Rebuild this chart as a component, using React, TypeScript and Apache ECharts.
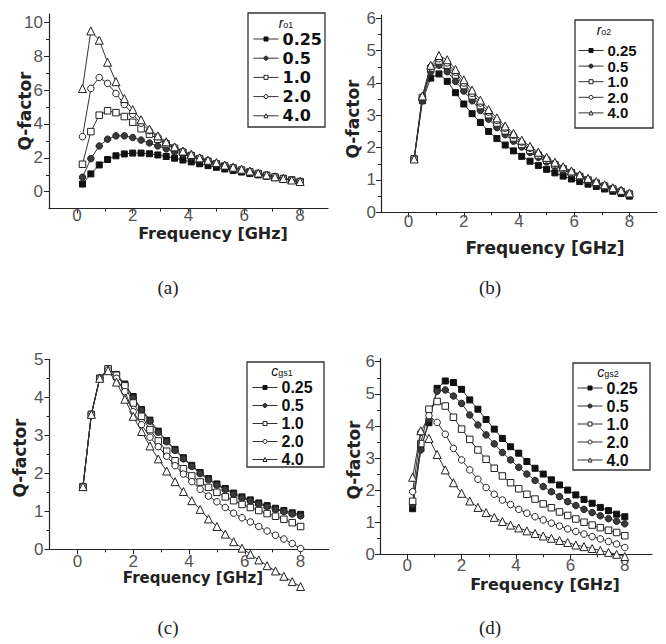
import React, { useEffect, useRef } from 'react';
import * as echarts from 'echarts';

const freq = [0.2, 0.5, 0.8, 1.1, 1.4, 1.7, 2.0, 2.3, 2.6, 2.9, 3.2, 3.5, 3.8, 4.1, 4.4, 4.7, 5.0, 5.3, 5.6, 5.9, 6.2, 6.5, 6.8, 7.1, 7.4, 7.7, 8.0];
const seriesNames = ['0.25', '0.5', '1.0', '2.0', '4.0'];

// (a) r_o1
const a025 = [0.45, 1.05, 1.58, 1.9, 2.12, 2.23, 2.28, 2.28, 2.24, 2.17, 2.08, 1.98, 1.87, 1.76, 1.65, 1.54, 1.44, 1.34, 1.25, 1.16, 1.07, 0.99, 0.91, 0.83, 0.75, 0.67, 0.58];
const a05 = [0.85, 1.95, 2.7, 3.1, 3.3, 3.3, 3.2, 3.05, 2.88, 2.7, 2.53, 2.36, 2.2, 2.04, 1.89, 1.75, 1.62, 1.5, 1.39, 1.28, 1.17, 1.07, 0.97, 0.87, 0.78, 0.69, 0.6];
const a10 = [1.62, 3.55, 4.52, 4.78, 4.67, 4.44, 4.1, 3.72, 3.4, 3.1, 2.82, 2.56, 2.33, 2.13, 1.95, 1.79, 1.65, 1.52, 1.4, 1.28, 1.17, 1.07, 0.97, 0.87, 0.78, 0.69, 0.6];
const a20 = [3.25, 6.1, 6.75, 6.4, 5.8, 5.15, 4.58, 4.05, 3.6, 3.25, 2.9, 2.62, 2.38, 2.17, 1.99, 1.83, 1.68, 1.54, 1.41, 1.3, 1.19, 1.08, 0.98, 0.88, 0.78, 0.69, 0.6];
const a40 = [6.1, 9.5, 8.95, 7.65, 6.5, 5.5, 4.85, 4.25, 3.7, 3.3, 2.95, 2.65, 2.4, 2.2, 2.0, 1.86, 1.72, 1.57, 1.45, 1.33, 1.22, 1.1, 0.99, 0.88, 0.78, 0.69, 0.6];

// (b) r_o2
const b025 = [1.65, 3.45, 4.15, 4.28, 4.05, 3.7, 3.35, 3.05, 2.78, 2.5, 2.28, 2.08, 1.9, 1.73, 1.58, 1.45, 1.33, 1.22, 1.12, 1.03, 0.95, 0.87, 0.8, 0.72, 0.65, 0.58, 0.5];
const b05 = [1.65, 3.45, 4.35, 4.55, 4.35, 4.05, 3.75, 3.45, 3.15, 2.88, 2.62, 2.4, 2.2, 2.02, 1.85, 1.7, 1.56, 1.43, 1.31, 1.2, 1.1, 1.0, 0.91, 0.82, 0.74, 0.66, 0.55];
const b10 = [1.65, 3.55, 4.45, 4.68, 4.55, 4.25, 3.92, 3.6, 3.3, 3.02, 2.76, 2.52, 2.3, 2.1, 1.92, 1.76, 1.61, 1.47, 1.34, 1.22, 1.11, 1.0, 0.9, 0.81, 0.72, 0.64, 0.56];
const b20 = [1.65, 3.55, 4.5, 4.75, 4.62, 4.33, 4.0, 3.68, 3.38, 3.1, 2.84, 2.6, 2.38, 2.17, 1.98, 1.81, 1.65, 1.5, 1.37, 1.25, 1.13, 1.02, 0.92, 0.83, 0.74, 0.66, 0.58];
const b40 = [1.65, 3.6, 4.55, 4.85, 4.72, 4.42, 4.1, 3.78, 3.47, 3.18, 2.92, 2.67, 2.44, 2.23, 2.04, 1.86, 1.7, 1.55, 1.41, 1.28, 1.16, 1.05, 0.95, 0.85, 0.76, 0.68, 0.6];

// (c) c_gs1
const c025 = [1.65, 3.55, 4.5, 4.75, 4.6, 4.35, 4.02, 3.68, 3.4, 3.11, 2.86, 2.63, 2.41, 2.21, 2.02, 1.86, 1.72, 1.6, 1.48, 1.38, 1.3, 1.22, 1.15, 1.08, 1.02, 0.96, 0.92];
const c05 = [1.65, 3.55, 4.5, 4.75, 4.6, 4.33, 3.98, 3.66, 3.37, 3.08, 2.83, 2.6, 2.38, 2.18, 1.99, 1.83, 1.69, 1.57, 1.45, 1.35, 1.27, 1.19, 1.12, 1.05, 0.99, 0.93, 0.88];
const c10 = [1.65, 3.55, 4.5, 4.75, 4.58, 4.3, 3.85, 3.5, 3.15, 2.85, 2.58, 2.33, 2.12, 1.93, 1.77, 1.63, 1.5, 1.38, 1.28, 1.18, 1.1, 1.02, 0.94, 0.87, 0.79, 0.7, 0.6];
const c20 = [1.65, 3.55, 4.5, 4.72, 4.5, 4.15, 3.62, 3.28, 2.95, 2.7, 2.45, 2.2, 1.98, 1.78, 1.58, 1.4, 1.25, 1.1, 0.95, 0.83, 0.72, 0.6, 0.48, 0.37, 0.27, 0.15, 0.02];
const c40 = [1.65, 3.55, 4.5, 4.7, 4.4, 3.95, 3.5, 3.1, 2.72, 2.38, 2.06, 1.78, 1.52, 1.28, 1.05, 0.8, 0.6, 0.4, 0.2, 0.03, -0.13, -0.28, -0.43, -0.57, -0.71, -0.85, -0.98];

// (d) c_gs2
const d025 = [1.42, 3.3, 4.1, 5.17, 5.4, 5.35, 5.14, 4.81, 4.52, 4.2, 3.9, 3.61, 3.35, 3.15, 2.89, 2.68, 2.5, 2.32, 2.16, 2.0, 1.85, 1.71, 1.59, 1.46, 1.36, 1.25, 1.17];
const d05 = [1.55, 3.25, 4.2, 5.08, 5.12, 4.93, 4.7, 4.34, 4.03, 3.72, 3.44, 3.17, 2.94, 2.71, 2.5, 2.3, 2.11, 1.95, 1.8, 1.64, 1.52, 1.4, 1.3, 1.2, 1.11, 1.03, 0.95];
const d10 = [1.65, 3.45, 4.52, 4.76, 4.62, 4.27, 3.9, 3.58, 3.25, 2.96, 2.68, 2.44, 2.23, 2.04, 1.87, 1.72, 1.57, 1.45, 1.32, 1.21, 1.1, 1.0, 0.91, 0.83, 0.75, 0.68, 0.58];
const d20 = [1.95, 3.8, 4.32, 4.11, 3.74, 3.3, 2.94, 2.63, 2.34, 2.08, 1.87, 1.69, 1.55, 1.4, 1.28, 1.17, 1.07, 0.97, 0.88, 0.79, 0.71, 0.63, 0.55, 0.48, 0.4, 0.32, 0.21];
const d40 = [2.4, 3.85, 3.61, 3.11, 2.63, 2.23, 1.9, 1.66, 1.46, 1.3, 1.15, 1.02, 0.91, 0.82, 0.73, 0.65, 0.57, 0.5, 0.43, 0.37, 0.29, 0.24, 0.18, 0.12, 0.06, 0.0, -0.07];

// tick values
const xTicks = [0, 2, 4, 6, 8];
const xMinor = [1, 3, 5, 7];
const yTicksA = [0, 2, 4, 6, 8, 10];
const yMinorA = [1, 3, 5, 7, 9];
const yTicks6 = [0, 1, 2, 3, 4, 5, 6];
const yMinor6 = [0.5, 1.5, 2.5, 3.5, 4.5, 5.5];
const yTicks5 = [0, 1, 2, 3, 4, 5];
const yMinor5 = [0.5, 1.5, 2.5, 3.5, 4.5];

const legendTitles = [
  { main: 'r', sub: 'o1' },
  { main: 'r', sub: 'o2' },
  { main: 'c', sub: 'gs1' },
  { main: 'c', sub: 'gs2' },
];
const panelLabels = ['(a)', '(b)', '(c)', '(d)'];
const xTitle = 'Frequency [GHz]';
const yTitle = 'Q-factor';

// layout (positions / styles only)
const layouts = [
  {
    grid: { left: 49, top: 14, width: 279, height: 194.6 }, yMin: -1, yMax: 10.5, yTicks: yTicksA, yMinor: yMinorA,
    data: [a025, a05, a10, a20, a40], xMargin: 0, yMargin: 6,
    legend: { left: 253, top: 31, gap: 3.2, lh: 16, fs: 16, fam: 'DejaVu Sans' },
    box: [248, 13, 77, 114], title: [286, 23],
    yName: [25, 111], xName: [213, 233.5, 16], label: [168, 287],
  },
  {
    grid: { left: 381, top: 15.1, width: 276, height: 197.2 }, yMin: 0, yMax: 6.1, yTicks: yTicks6, yMinor: yMinor6,
    data: [b025, b05, b10, b20, b40], xMargin: 2.5, yMargin: 5,
    legend: { left: 578, top: 43, gap: 0.6, lh: 14, fs: 15, fam: 'Liberation Sans' },
    box: [575, 20, 78, 108], title: [604, 30],
    yName: [353, 119], xName: [545, 248, 17], label: [490, 287],
  },
  {
    grid: { left: 49.5, top: 359.3, width: 279, height: 190 }, yMin: 0, yMax: 5, yTicks: yTicks5, yMinor: yMinor5,
    data: [c025, c05, c10, c20, c40], xMargin: 5, yMargin: 6,
    legend: { left: 252, top: 379.5, gap: 2, lh: 15, fs: 16, fam: 'Liberation Sans' },
    box: [247, 362, 77, 105], title: [282, 371],
    yName: [20, 458], xName: [193, 578, 15], label: [168, 627],
  },
  {
    grid: { left: 380, top: 358.5, width: 272, height: 195.8 }, yMin: 0, yMax: 6.1, yTicks: yTicks6, yMinor: yMinor6,
    data: [d025, d05, d10, d20, d40], xMargin: 4, yMargin: 5,
    legend: { left: 577, top: 380, gap: 2, lh: 16, fs: 16, fam: 'Liberation Sans' },
    box: [573, 363, 77, 107], title: [608, 372],
    yName: [354, 460], xName: [545, 584, 16], label: [490, 627],
  },
];

const symbolStyles = [
  { symbol: 'rect', size: 6, fill: '#111', stroke: '#111' },
  { symbol: 'circle', size: 6.5, fill: '#3a3a3a', stroke: '#222' },
  { symbol: 'rect', size: 6.5, fill: '#fff', stroke: '#222' },
  { symbol: 'circle', size: 6.5, fill: '#fff', stroke: '#222' },
  { symbol: 'triangle', size: 8, fill: '#fff', stroke: '#222' },
];

const tickFont = { fontSize: 17, lineHeight: 14, color: '#555', fontFamily: 'Liberation Sans, Arial, sans-serif' };

export default function App() {
  const ref = useRef<HTMLDivElement>(null);
  useEffect(() => {
    if (!ref.current) return;
    const chart = echarts.init(ref.current, undefined, { renderer: 'svg' });
    const grid: any[] = [];
    const xAxis: any[] = [];
    const yAxis: any[] = [];
    const series: any[] = [];
    const legend: any[] = [];
    const graphic: any[] = [];

    layouts.forEach((p, i) => {
      grid.push({ ...p.grid, containLabel: false });
      const axisLine = { show: true, onZero: false, lineStyle: { color: '#222', width: 1.2 } };
      xAxis.push({
        type: 'value', gridIndex: i, position: 'bottom', min: -1, max: 9,
        axisLine, splitLine: { show: false },
        axisTick: { show: true, customValues: xTicks, length: 5, lineStyle: { color: '#222', width: 1 } },
        axisLabel: { show: true, customValues: xTicks, margin: p.xMargin, ...tickFont },
      });
      xAxis.push({
        type: 'value', gridIndex: i, position: 'bottom', min: -1, max: 9,
        axisLine: { show: false, onZero: false }, splitLine: { show: false },
        axisTick: { show: true, customValues: xMinor, length: 3, lineStyle: { color: '#222', width: 1 } },
        axisLabel: { show: false },
      });
      yAxis.push({
        type: 'value', gridIndex: i, position: 'left', min: p.yMin, max: p.yMax,
        axisLine, splitLine: { show: false },
        axisTick: { show: true, customValues: p.yTicks, length: 5, lineStyle: { color: '#222', width: 1 } },
        axisLabel: { show: true, customValues: p.yTicks, margin: p.yMargin, ...tickFont },
      });
      yAxis.push({
        type: 'value', gridIndex: i, position: 'left', min: p.yMin, max: p.yMax,
        axisLine: { show: false, onZero: false }, splitLine: { show: false },
        axisTick: { show: true, customValues: p.yMinor, length: 3, lineStyle: { color: '#222', width: 1 } },
        axisLabel: { show: false },
      });
      p.data.forEach((arr, s) => {
        const st = symbolStyles[s];
        series.push({
          type: 'line', name: seriesNames[s], xAxisIndex: 2 * i, yAxisIndex: 2 * i,
          data: freq.map((f, k) => [f, arr[k]]),
          symbol: st.symbol, symbolSize: st.size, showAllSymbol: true, clip: false,
          lineStyle: { color: '#333', width: 1 },
          itemStyle: { color: st.fill, borderColor: st.stroke, borderWidth: 1 },
          z: 2 + s,
        });
      });
      legend.push({
        orient: 'vertical', left: p.legend.left, top: p.legend.top, padding: 0,
        itemGap: p.legend.gap, itemWidth: 25, itemHeight: 5, selectedMode: false,
        data: seriesNames,
        itemStyle: { borderWidth: 1 },
        lineStyle: { width: 1, color: '#333' },
        textStyle: { fontFamily: p.legend.fam, fontWeight: 'bold', fontSize: p.legend.fs, lineHeight: p.legend.lh, color: '#111', padding: [0, 0, 0, -1] },
      });
      graphic.push({
        type: 'rect', shape: { x: p.box[0], y: p.box[1], width: p.box[2], height: p.box[3] },
        style: { fill: 'none', stroke: '#333', lineWidth: 1.3 }, z: 10,
      });
      graphic.push({
        type: 'text', x: p.title[0], y: p.title[1], z: 10,
        style: {
          text: `{m|${legendTitles[i].main}}{s|${legendTitles[i].sub}}`,
          align: 'center', verticalAlign: 'middle',
          rich: {
            m: { fontSize: 14, fontStyle: 'italic', fontFamily: 'Liberation Sans, Arial', fill: '#111', lineHeight: 10 },
            s: { fontSize: 9, fontFamily: 'Liberation Sans, Arial', fill: '#111', padding: [4, 0, 0, 0], lineHeight: 10 },
          },
        },
      });
      graphic.push({
        type: 'text', x: p.yName[0], y: p.yName[1], rotation: Math.PI / 2, z: 10,
        style: { text: yTitle, align: 'center', verticalAlign: 'middle', fontSize: 17, lineHeight: 14, fontWeight: 'bold', fontFamily: 'DejaVu Sans', fill: '#222' },
      });
      graphic.push({
        type: 'text', x: p.xName[0], y: p.xName[1], z: 10,
        style: { text: xTitle, align: 'center', verticalAlign: 'middle', fontSize: p.xName[2], lineHeight: 14, fontWeight: 'bold', fontFamily: 'DejaVu Sans', fill: '#222' },
      });
      graphic.push({
        type: 'text', x: p.label[0], y: p.label[1], z: 10,
        style: { text: panelLabels[i], align: 'center', verticalAlign: 'middle', fontSize: 19, fontFamily: 'Liberation Serif, Times New Roman, serif', fill: '#222' },
      });
    });

    chart.setOption({
      animation: false,
      backgroundColor: '#fff',
      grid, xAxis, yAxis, series, legend, graphic,
    });
    return () => chart.dispose();
  }, []);
  return <div ref={ref} style={{ position: 'absolute', left: 0, top: 0, width: 666, height: 644 }} />;
}
